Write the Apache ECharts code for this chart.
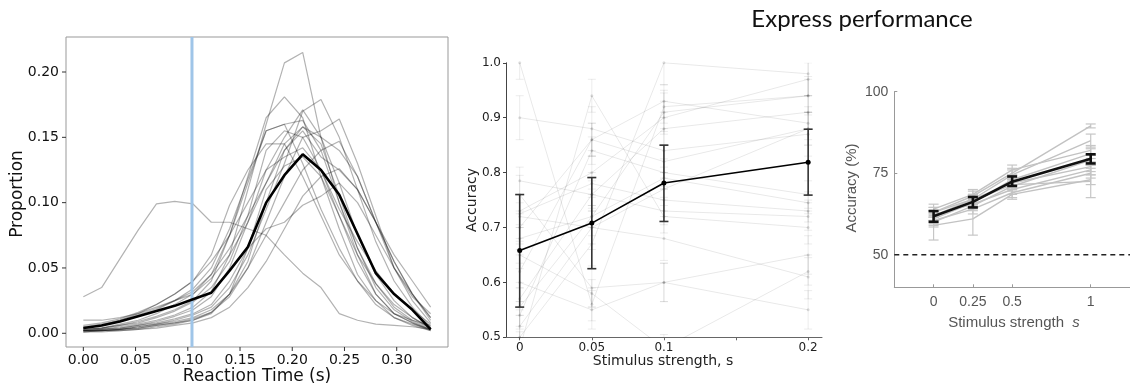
<!DOCTYPE html>
<html>
<head>
<meta charset="utf-8">
<script src="https://cdn.jsdelivr.net/npm/echarts@6/dist/echarts.min.js"></script>
<style>html,body{margin:0;padding:0;background:#fff;}#c{width:1130px;height:389px;}</style>
</head>
<body>
<div id="c"></div>
<script>
// ---------- Panel 1: RT distributions ----------
const rtX = [0, 0.0175, 0.035, 0.0525, 0.07, 0.0875, 0.105, 0.1225, 0.14, 0.1575, 0.175, 0.1925, 0.21, 0.2275, 0.245, 0.2625, 0.28, 0.2975, 0.315, 0.3325];
const rtMean = [0.004,0.006,0.009,0.013,0.017,0.021,0.026,0.031,0.048,0.066,0.100,0.121,0.137,0.125,0.106,0.076,0.046,0.030,0.018,0.003];
const rtSubjects = [
  [0.028,0.035,0.057,0.079,0.099,0.101,0.099,0.085,0.085,0.080,0.075,0.060,0.046,0.035,0.015,0.010,0.007,0.006,0.005,0.003],
  [0.002,0.003,0.005,0.007,0.010,0.014,0.020,0.032,0.060,0.110,0.160,0.207,0.215,0.150,0.100,0.060,0.030,0.015,0.008,0.002],
  [0.003,0.004,0.007,0.010,0.015,0.022,0.030,0.045,0.075,0.120,0.165,0.181,0.165,0.120,0.080,0.045,0.025,0.012,0.006,0.002],
  [0.002,0.002,0.003,0.005,0.007,0.010,0.014,0.020,0.035,0.060,0.095,0.130,0.170,0.179,0.150,0.110,0.070,0.040,0.020,0.005],
  [0.001,0.002,0.003,0.004,0.006,0.008,0.011,0.016,0.028,0.050,0.085,0.120,0.150,0.155,0.164,0.130,0.090,0.050,0.025,0.008],
  [0.004,0.006,0.009,0.013,0.018,0.025,0.034,0.050,0.080,0.118,0.155,0.160,0.130,0.095,0.065,0.040,0.022,0.012,0.007,0.003],
  [0.003,0.004,0.006,0.009,0.013,0.018,0.025,0.040,0.075,0.115,0.155,0.160,0.163,0.140,0.100,0.065,0.038,0.020,0.010,0.004],
  [0.002,0.003,0.004,0.006,0.009,0.013,0.018,0.028,0.050,0.085,0.125,0.150,0.171,0.150,0.115,0.075,0.045,0.025,0.012,0.004],
  [0.005,0.007,0.010,0.014,0.019,0.025,0.032,0.045,0.065,0.090,0.115,0.140,0.155,0.135,0.125,0.110,0.085,0.055,0.030,0.010],
  [0.004,0.006,0.010,0.015,0.022,0.030,0.040,0.060,0.098,0.125,0.145,0.145,0.120,0.090,0.060,0.040,0.025,0.015,0.010,0.006],
  [0.001,0.001,0.002,0.003,0.004,0.006,0.008,0.012,0.020,0.035,0.055,0.080,0.105,0.120,0.126,0.110,0.085,0.060,0.040,0.020],
  [0.002,0.002,0.003,0.004,0.006,0.008,0.010,0.015,0.030,0.065,0.110,0.128,0.135,0.120,0.090,0.055,0.030,0.015,0.008,0.003],
  [0.002,0.003,0.004,0.006,0.008,0.011,0.015,0.022,0.040,0.065,0.080,0.085,0.098,0.105,0.115,0.100,0.075,0.050,0.030,0.012],
  [0.010,0.010,0.012,0.015,0.020,0.025,0.030,0.042,0.060,0.085,0.115,0.145,0.158,0.150,0.140,0.120,0.085,0.050,0.028,0.015],
  [0.002,0.002,0.003,0.005,0.007,0.009,0.012,0.018,0.030,0.050,0.075,0.100,0.125,0.140,0.147,0.120,0.085,0.055,0.030,0.012],
  [0.003,0.004,0.006,0.008,0.012,0.017,0.024,0.035,0.055,0.090,0.140,0.155,0.150,0.125,0.090,0.060,0.038,0.022,0.012,0.004],
  [0.001,0.002,0.002,0.003,0.005,0.007,0.010,0.016,0.030,0.055,0.100,0.140,0.158,0.145,0.105,0.065,0.035,0.018,0.009,0.003],
  [0.006,0.008,0.011,0.016,0.022,0.030,0.040,0.055,0.075,0.100,0.125,0.135,0.142,0.125,0.095,0.070,0.048,0.030,0.018,0.007]
];
const rtCutoff = 0.104;
const rtXTicks = [0, 0.05, 0.10, 0.15, 0.20, 0.25, 0.30];
const rtYTicks = [0, 0.05, 0.10, 0.15, 0.20];
const rtXRange = [-0.0166, 0.3491];
const rtYRange = [-0.0105, 0.2268];

// ---------- Panel 2: accuracy vs stimulus strength ----------
const accX = [0, 0.05, 0.1, 0.2];
const accXTicks = [0, 0.05, 0.1, 0.15, 0.2];
const accXLabels = [0, 0.05, 0.1, 0.2];
const accYTicks = [0.5, 0.6, 0.7, 0.8, 0.9, 1.0];
const accMean = [0.658, 0.708, 0.781, 0.819];
const accLow  = [0.555, 0.625, 0.711, 0.759];
const accHigh = [0.760, 0.791, 0.850, 0.879];
const accSubjects = [
  [1.00, 0.56, 0.92, 0.94],
  [0.90, 0.88, 0.84, 0.87],
  [0.785, 0.76, 0.73, 0.72],
  [0.76, 0.59, 0.60, 0.55],
  [0.73, 0.80, 0.90, 0.97],
  [0.725, 0.78, 0.75, 0.73],
  [0.72, 0.70, 0.68, 0.61],
  [0.70, 0.86, 0.93, 0.89],
  [0.555, 0.72, 0.91, 0.94],
  [0.54, 0.84, 0.80, 0.76],
  [0.52, 0.70, 0.77, 0.88],
  [0.50, 0.67, 1.00, 0.98],
  [0.48, 0.94, 0.72, 0.70],
  [0.60, 0.55, 0.60, 0.65],
  [0.65, 0.58, 0.48, 0.62],
  [0.57, 0.76, 0.88, 0.91],
  [0.68, 0.72, 0.79, 0.745],
  [0.62, 0.86, 0.82, 0.88]
];
const accSubjectErr = [0.03, 0.04, 0.025, 0.035, 0.03, 0.02, 0.04, 0.03, 0.035, 0.025, 0.03, 0.04, 0.03, 0.035, 0.025, 0.03, 0.02, 0.03];

// ---------- Panel 3: express performance ----------
const expX = [0, 0.25, 0.5, 1];
const expXTicks = [0, 0.25, 0.5, 1];
const expYTicks = [50, 75, 100];
const expMean = [61.8, 66.2, 72.4, 79.4];
const expLow  = [60.1, 64.5, 71.1, 78.0];
const expHigh = [63.4, 67.7, 74.0, 80.8];
const expSubjects = [
  [63, 68, 75, 89.5],
  [62, 67, 74.5, 85],
  [64, 68.5, 76, 82],
  [61, 66, 73, 81],
  [60, 65, 71, 79],
  [63, 67, 72, 77],
  [62, 65.5, 70, 76],
  [60.5, 64, 69, 75],
  [59, 61, 68.5, 73],
  [61.5, 66.5, 71.5, 72.5]
];
const expSubjectErr = [
  [1.5, 1.5, 1.5, 0.6],
  [1.5, 1.5, 1.5, 2.0],
  [1.5, 1.5, 1.5, 1.5],
  [1.5, 1.5, 1.5, 1.5],
  [1.5, 1.5, 1.5, 1.5],
  [1.5, 1.5, 1.5, 1.5],
  [1.5, 1.5, 1.5, 1.5],
  [1.5, 1.5, 1.5, 1.5],
  [4.5, 5.0, 1.5, 1.5],
  [1.5, 1.5, 1.5, 5.0]
];
const chanceLevel = 50;

const titleText = 'Express performance';

// ---------- helpers ----------
function errRender(capHalf, color, width) {
  return function (params, api) {
    const x = api.value(0), lo = api.value(1), hi = api.value(2);
    const a = api.coord([x, lo]), b = api.coord([x, hi]);
    const style = { stroke: color, lineWidth: width };
    return {
      type: 'group',
      children: [
        { type: 'line', shape: { x1: a[0], y1: a[1], x2: b[0], y2: b[1] }, style: style },
        { type: 'line', shape: { x1: a[0] - capHalf, y1: a[1], x2: a[0] + capHalf, y2: a[1] }, style: style },
        { type: 'line', shape: { x1: b[0] - capHalf, y1: b[1], x2: b[0] + capHalf, y2: b[1] }, style: style }
      ]
    };
  };
}
function zip(xs, ys) { return xs.map((x, i) => [x, ys[i]]); }

const series = [];
// Panel 1
rtSubjects.forEach(s => series.push({
  type: 'line', xAxisIndex: 0, yAxisIndex: 0, data: zip(rtX, s), symbol: 'none',
  lineStyle: { color: 'rgba(0,0,0,0.3)', width: 1.2 }, silent: true
}));
series.push({
  type: 'line', xAxisIndex: 0, yAxisIndex: 0, symbol: 'none',
  data: [[rtCutoff, rtYRange[0]], [rtCutoff, rtYRange[1]]],
  lineStyle: { color: '#9fc5e8', width: 3 }
});
series.push({
  type: 'line', xAxisIndex: 0, yAxisIndex: 0, data: zip(rtX, rtMean), symbol: 'none',
  lineStyle: { color: '#000', width: 2.6 }
});
// panel 1 tick marks (matplotlib style, outward) placed with the axis scales
series.push({
  type: 'custom', xAxisIndex: 0, yAxisIndex: 0, clip: false, silent: true,
  data: rtXTicks.map(v => [v, rtYRange[0]]),
  renderItem: function (params, api) {
    const p = api.coord([api.value(0), api.value(1)]);
    return { type: 'line', shape: { x1: p[0], y1: p[1], x2: p[0], y2: p[1] + 4 }, style: { stroke: '#333', lineWidth: 1 } };
  }
});
series.push({
  type: 'custom', xAxisIndex: 0, yAxisIndex: 0, clip: false, silent: true,
  data: rtYTicks.map(v => [rtXRange[0], v]),
  renderItem: function (params, api) {
    const p = api.coord([api.value(0), api.value(1)]);
    return { type: 'line', shape: { x1: p[0] - 4, y1: p[1], x2: p[0], y2: p[1] }, style: { stroke: '#333', lineWidth: 1 } };
  }
});
// Panel 2
accSubjects.forEach((s, k) => {
  series.push({
    type: 'custom', xAxisIndex: 1, yAxisIndex: 1, clip: true,
    renderItem: errRender(4, 'rgba(0,0,0,0.08)', 1),
    data: accX.map((x, i) => [x, s[i] - accSubjectErr[k], s[i] + accSubjectErr[k]]),
    encode: { x: 0, y: [1, 2] }
  });
  series.push({
    type: 'line', xAxisIndex: 1, yAxisIndex: 1, data: zip(accX, s),
    symbol: 'circle', symbolSize: 3,
    itemStyle: { color: 'rgba(0,0,0,0.12)' },
    lineStyle: { color: 'rgba(0,0,0,0.09)', width: 1 }
  });
});
series.push({
  type: 'custom', xAxisIndex: 1, yAxisIndex: 1,
  renderItem: errRender(4.5, '#333', 1.6),
  data: accX.map((x, i) => [x, accLow[i], accHigh[i]]),
  encode: { x: 0, y: [1, 2] }, z: 5
});
series.push({
  type: 'line', xAxisIndex: 1, yAxisIndex: 1, data: zip(accX, accMean),
  symbol: 'circle', symbolSize: 5, itemStyle: { color: '#000' },
  lineStyle: { color: '#000', width: 1.6 }, z: 6
});
// Panel 3
series.push({
  type: 'line', xAxisIndex: 2, yAxisIndex: 2, symbol: 'none',
  data: [[-0.25, chanceLevel], [1.25, chanceLevel]],
  lineStyle: { color: '#222', width: 1.5, type: [5, 4] }
});
expSubjects.forEach((s, k) => {
  series.push({
    type: 'custom', xAxisIndex: 2, yAxisIndex: 2,
    renderItem: errRender(5, '#c6c6c6', 1.2),
    data: expX.map((x, i) => [x, s[i] - expSubjectErr[k][i], s[i] + expSubjectErr[k][i]]),
    encode: { x: 0, y: [1, 2] }
  });
  series.push({
    type: 'line', xAxisIndex: 2, yAxisIndex: 2, data: zip(expX, s), symbol: 'none',
    lineStyle: { color: '#c2c2c2', width: 1.4 }
  });
});
series.push({
  type: 'custom', xAxisIndex: 2, yAxisIndex: 2,
  renderItem: errRender(5, '#111', 2.6),
  data: expX.map((x, i) => [x, expLow[i], expHigh[i]]),
  encode: { x: 0, y: [1, 2] }, z: 5
});
series.push({
  type: 'line', xAxisIndex: 2, yAxisIndex: 2, data: zip(expX, expMean), symbol: 'none',
  lineStyle: { color: '#111', width: 2.6 }, z: 6
});

const dv = 'DejaVu Sans';
const ar = 'Liberation Sans';

const option = {
  animation: false,
  backgroundColor: '#fff',
  grid: [
    { left: 66, top: 37, width: 382, height: 310, show: true, borderColor: '#999', borderWidth: 1, backgroundColor: 'transparent' },
    { left: 506, top: 62.8, width: 316, height: 274.5 },
    { left: 894.3, top: 91.7, width: 240, height: 195.6 }
  ],
  xAxis: [
    { type: 'value', gridIndex: 0, min: rtXRange[0], max: rtXRange[1], position: 'bottom',
      axisLine: { show: false, onZero: false }, splitLine: { show: false },
      axisTick: { show: false },
      axisLabel: { customValues: rtXTicks, formatter: v => v.toFixed(2), fontFamily: dv, fontSize: 14, color: '#111', margin: 6 } },
    { type: 'value', gridIndex: 1, min: -0.0095, max: 0.2096,
      axisLine: { show: true, onZero: false, lineStyle: { color: '#666', width: 1 } }, splitLine: { show: false },
      axisTick: { show: true, length: 3, lineStyle: { color: '#666' }, customValues: accXTicks },
      axisLabel: { customValues: accXLabels, formatter: v => String(v), fontFamily: dv, fontSize: 12, color: '#222', margin: 5 } },
    { type: 'value', gridIndex: 2, min: -0.25, max: 1.25,
      axisLine: { show: true, onZero: false, lineStyle: { color: '#999', width: 1 } }, splitLine: { show: false },
      axisTick: { show: true, inside: true, length: 3, lineStyle: { color: '#999' }, customValues: expXTicks },
      axisLabel: { customValues: expXTicks, formatter: v => String(v), fontFamily: ar, fontSize: 14, color: '#555', margin: 8 } }
  ],
  yAxis: [
    { type: 'value', gridIndex: 0, min: rtYRange[0], max: rtYRange[1], position: 'left',
      axisLine: { show: false, onZero: false }, splitLine: { show: false },
      axisTick: { show: false },
      axisLabel: { customValues: rtYTicks, formatter: v => v.toFixed(2), fontFamily: dv, fontSize: 14, color: '#111', margin: 7 } },
    { type: 'value', gridIndex: 1, min: 0.5, max: 1.0,
      axisLine: { show: true, onZero: false, lineStyle: { color: '#444', width: 1 } }, splitLine: { show: false },
      axisTick: { show: true, length: 3, lineStyle: { color: '#444' }, customValues: accYTicks },
      axisLabel: { customValues: accYTicks, formatter: v => v.toFixed(1), fontFamily: dv, fontSize: 12, color: '#222', margin: 5 } },
    { type: 'value', gridIndex: 2, min: 40, max: 100,
      axisLine: { show: true, onZero: false, lineStyle: { color: '#999', width: 1 } }, splitLine: { show: false },
      axisTick: { show: true, inside: true, length: 3, lineStyle: { color: '#999' }, customValues: expYTicks },
      axisLabel: { customValues: expYTicks, formatter: v => String(v), fontFamily: ar, fontSize: 14, color: '#555', margin: 6 } }
  ],
  graphic: [
    { type: 'text', x: 862, y: 19, style: { text: titleText, font: '24px Lato', fill: '#111', textAlign: 'center', textVerticalAlign: 'middle' } },
    { type: 'text', x: 17.5, y: 194, rotation: Math.PI / 2, style: { text: 'Proportion', font: '17px "DejaVu Sans"', fill: '#111', textAlign: 'center', textVerticalAlign: 'middle' } },
    { type: 'text', x: 257, y: 377, style: { text: 'Reaction Time (s)', font: '17px "DejaVu Sans"', fill: '#111', textAlign: 'center', textVerticalAlign: 'middle' } },
    { type: 'text', x: 472, y: 200, rotation: Math.PI / 2, style: { text: 'Accuracy', font: '14px "DejaVu Sans"', fill: '#222', textAlign: 'center', textVerticalAlign: 'middle' } },
    { type: 'text', x: 663, y: 361, style: { text: 'Stimulus strength, s', font: '14px "DejaVu Sans"', fill: '#222', textAlign: 'center', textVerticalAlign: 'middle' } },
    { type: 'text', x: 852, y: 188, rotation: Math.PI / 2, style: { text: 'Accuracy (%)', font: '15px "Liberation Sans"', fill: '#555', textAlign: 'center', textVerticalAlign: 'middle' } },
    { type: 'text', x: 1014, y: 323, style: { text: '{n|Stimulus strength  }{i|s}', textAlign: 'center', textVerticalAlign: 'middle',
        rich: { n: { fontFamily: ar, fontSize: 15, fill: '#555', color: '#555' }, i: { fontFamily: ar, fontSize: 15, fontStyle: 'italic', fill: '#555', color: '#555' } } } }
  ],
  series: series
};
const chart = echarts.init(document.getElementById('c'), null, { renderer: 'canvas' });
chart.setOption(option);
</script>
</body>
</html>
